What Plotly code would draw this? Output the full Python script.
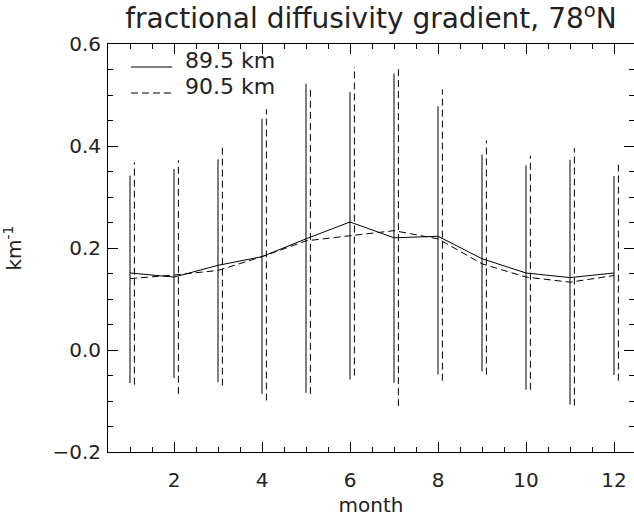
import plotly.graph_objects as go

# Monthly fractional diffusivity gradient at 78N, two heights
months = [1, 2, 3, 4, 5, 6, 7, 8, 9, 10, 11, 12]

grad_895 = [0.151, 0.143, 0.166, 0.183, 0.218, 0.251, 0.220, 0.223, 0.179, 0.151, 0.142, 0.151]
upper_895 = [0.342, 0.355, 0.374, 0.453, 0.522, 0.506, 0.542, 0.478, 0.383, 0.362, 0.373, 0.341]
lower_895 = [-0.065, -0.055, -0.063, -0.086, -0.084, -0.058, -0.064, -0.048, -0.042, -0.078, -0.107, -0.049]

grad_905 = [0.140, 0.147, 0.156, 0.183, 0.214, 0.224, 0.234, 0.218, 0.169, 0.143, 0.133, 0.146]
upper_905 = [0.368, 0.372, 0.403, 0.472, 0.514, 0.555, 0.559, 0.511, 0.411, 0.381, 0.396, 0.366]
lower_905 = [-0.068, -0.086, -0.070, -0.099, -0.086, -0.050, -0.110, -0.060, -0.048, -0.078, -0.109, -0.060]

series_names = ["89.5 km", "90.5 km"]

# the 90.5 km range bars are nudged right so both sets stay readable
bar_offset = 0.1

FONT = "DejaVu Sans"
INK = "#222222"
DASH = "7px,4px"

W, H = 634, 517
M_L, M_R, M_T, M_B = 108, 0, 44, 65
PW, PH = W - M_L - M_R, H - M_T - M_B


def px_to_paper(px, py):
    """Convert page pixels to paper fractions of the plot area."""
    return (px - M_L) / PW, (H - M_B - py) / PH


def range_bars(xs, lo, hi, shift):
    bx, by = [], []
    for x, a, b in zip(xs, lo, hi):
        bx += [x + shift, x + shift, None]
        by += [a, b, None]
    return bx, by


fig = go.Figure()

for lo, hi, shift, dash in [
    (lower_895, upper_895, 0.0, "solid"),
    (lower_905, upper_905, bar_offset, DASH),
]:
    bx, by = range_bars(months, lo, hi, shift)
    fig.add_trace(go.Scatter(
        x=bx, y=by, mode="lines", showlegend=False, hoverinfo="skip",
        line=dict(color="black", width=1, dash=dash),
    ))

for vals, name, dash in [(grad_895, series_names[0], "solid"),
                         (grad_905, series_names[1], DASH)]:
    fig.add_trace(go.Scatter(
        x=months, y=vals, mode="lines", name=name, showlegend=False,
        line=dict(color="black", width=1, dash=dash),
    ))

# invisible trace so the right-hand tick axis is drawn
fig.add_trace(go.Scatter(
    x=months, y=grad_895, yaxis="y2", mode="lines", showlegend=False,
    hoverinfo="skip", line=dict(color="rgba(0,0,0,0)", width=0),
))

# key in the upper-left corner: sample line with its label
for i, (name, dash) in enumerate(zip(series_names, ["solid", DASH])):
    row = 67 + 26 * i
    x0, y0 = px_to_paper(131, row)
    x1, _ = px_to_paper(172, row)
    fig.add_shape(type="line", xref="paper", yref="paper",
                  x0=x0, x1=x1, y0=y0, y1=y0,
                  line=dict(color="black", width=1, dash=dash))
    tx, ty = px_to_paper(183, row - 6)
    fig.add_annotation(text=name, xref="paper", yref="paper", x=tx, y=ty,
                       xanchor="left", yanchor="middle", showarrow=False,
                       font=dict(family=FONT, size=22, color=INK))

axis_font = dict(family=FONT, size=20, color=INK)

fig.update_layout(
    width=W, height=H,
    margin=dict(l=M_L, r=M_R, t=M_T, b=M_B),
    paper_bgcolor="white", plot_bgcolor="white",
    font=dict(family=FONT, color=INK),
    title=dict(
        text="fractional diffusivity gradient, 78<sup>o</sup>N",
        font=dict(family=FONT, size=28, color=INK),
        xref="paper", x=0.5, xanchor="center",
        yref="container", y=0.964, yanchor="middle",
    ),
    xaxis=dict(
        range=[0.5, 0.5 + PW / 44.0],
        showline=True, linecolor="black", linewidth=1, mirror="ticks",
        ticks="inside", ticklen=10, tickcolor="black", tickwidth=1,
        tickvals=[2, 4, 6, 8, 10, 12],
        minor=dict(dtick=0.5, tick0=0.5, ticks="inside", ticklen=5,
                   tickcolor="black", tickwidth=1, showgrid=False),
        showgrid=False, zeroline=False,
        tickfont=axis_font, ticklabelstandoff=10,
        title=dict(text="month", font=axis_font, standoff=10),
    ),
    yaxis=dict(
        range=[-0.2, 0.6],
        showline=True, linecolor="black", linewidth=1, mirror=False,
        ticks="inside", ticklen=10, tickcolor="black", tickwidth=1,
        tickvals=[-0.2, 0.0, 0.2, 0.4, 0.6],
        ticktext=["\u22120.2", "0.0", "0.2", "0.4", "0.6"],
        minor=dict(dtick=0.05, tick0=0, ticks="inside", ticklen=5,
                   tickcolor="black", tickwidth=1, showgrid=False),
        showgrid=False, zeroline=False,
        tickfont=axis_font, ticklabelstandoff=2,
        title=dict(text="km<sup>-1</sup>", font=axis_font, standoff=35),
    ),
    yaxis2=dict(
        overlaying="y", side="right", range=[-0.2, 0.6],
        showline=False, showgrid=False, zeroline=False, showticklabels=False,
        ticks="inside", ticklen=10, tickcolor="black", tickwidth=1,
        tickvals=[-0.2, 0.0, 0.2, 0.4, 0.6],
        minor=dict(dtick=0.05, tick0=0, ticks="inside", ticklen=5,
                   tickcolor="black", tickwidth=1, showgrid=False),
    ),
    showlegend=False,
)

fig.write_html("out.html")
